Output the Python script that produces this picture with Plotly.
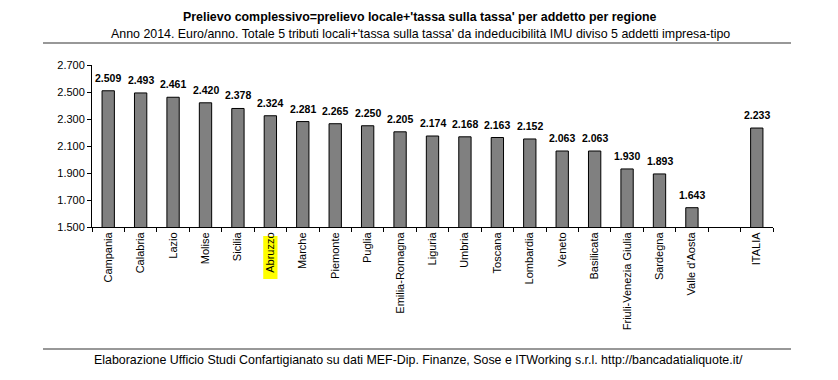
import plotly.graph_objects as go

regions = ["Campania", "Calabria", "Lazio", "Molise", "Sicilia", "Abruzzo", "Marche",
           "Piemonte", "Puglia", "Emilia-Romagna", "Liguria", "Umbria", "Toscana",
           "Lombardia", "Veneto", "Basilicata", "Friuli-Venezia Giulia", "Sardegna",
           "Valle d'Aosta", " ", "ITALIA"]
values = [2509, 2493, 2461, 2420, 2378, 2324, 2281, 2265, 2250, 2205, 2174, 2168, 2163,
          2152, 2063, 2063, 1930, 1893, 1643, None, 2233]
y_ticks = [1500, 1700, 1900, 2100, 2300, 2500, 2700]
highlight = "Abruzzo"

title = "Prelievo complessivo=prelievo locale+'tassa sulla tassa' per addetto per regione"
subtitle = ("Anno 2014. Euro/anno. Totale 5 tributi locali+'tassa sulla tassa' da "
            "indeducibilità IMU diviso 5 addetti impresa-tipo")
footer = ("Elaborazione Ufficio Studi Confartigianato su dati MEF-Dip. Finanze, Sose e "
          "ITWorking s.r.l. http://bancadatialiquote.it/")

W, H = 838, 380
L, R, T, B = 92, 65, 65, 153
PW, PH = W - L - R, H - T - B

def px(x):
    return (x - L) / PW

def py(y):
    return (H - B - y) / PH

FONT = "Liberation Sans, Arial, sans-serif"

fig = go.Figure(go.Bar(
    x=regions, y=values,
    marker=dict(color="#808080", line=dict(color="#000000", width=1)),
    width=0.38,
    hoverinfo="x+y",
))

# value labels above bars
for r, v in zip(regions, values):
    if v is None:
        continue
    fig.add_annotation(x=r, y=v, xref="x", yref="y", text=f"<b>{v:,}</b>".replace(",", "."),
                       showarrow=False, xanchor="center", yanchor="bottom", yshift=5,
                       font=dict(family=FONT, size=10.5, color="black"))

hi = regions.index(highlight)
fig.add_shape(type="rect", xref="x", yref="paper", layer="below",
              x0=hi - 0.22, x1=hi + 0.22, y0=py(236), y1=py(279),
              fillcolor="#ffff00", line=dict(width=0))

for y in (43, 349):
    fig.add_shape(type="line", xref="paper", yref="paper",
                  x0=px(43), x1=px(791), y0=py(y), y1=py(y),
                  line=dict(color="#333333", width=1.2))

for txt, yy, xx in ((f"<b>{title}</b>", 17, 420), (subtitle, 34, 420), (footer, 360, 418)):
    fig.add_annotation(text=txt, xref="paper", yref="paper",
                       x=px(xx), y=py(yy), xanchor="center", yanchor="middle",
                       showarrow=False,
                       font=dict(family=FONT, size=12.4, color="black"))

fig.update_layout(
    width=W, height=H,
    margin=dict(l=L, r=R, t=T, b=B, autoexpand=False),
    paper_bgcolor="white", plot_bgcolor="white",
    separators=",.",
    showlegend=False,
    font=dict(family=FONT, size=11, color="black"),
    xaxis=dict(type="category", tickangle=-90, tickson="boundaries",
               ticks="outside", ticklen=4, tickcolor="black", automargin=False,
               showline=True, linecolor="black", linewidth=1,
               showgrid=False, tickfont=dict(size=11, family=FONT, color="black")),
    yaxis=dict(range=[1500, 2700], tickvals=y_ticks, tickformat=",d",
               ticks="outside", ticklen=4, tickcolor="black", automargin=False,
               showline=True, linecolor="black", linewidth=1,
               showgrid=False, zeroline=False, tickfont=dict(size=11, family=FONT, color="black")),
)

fig.write_html("out.html", config={"displayModeBar": False},
               post_script="document.body.style.margin='0';")
